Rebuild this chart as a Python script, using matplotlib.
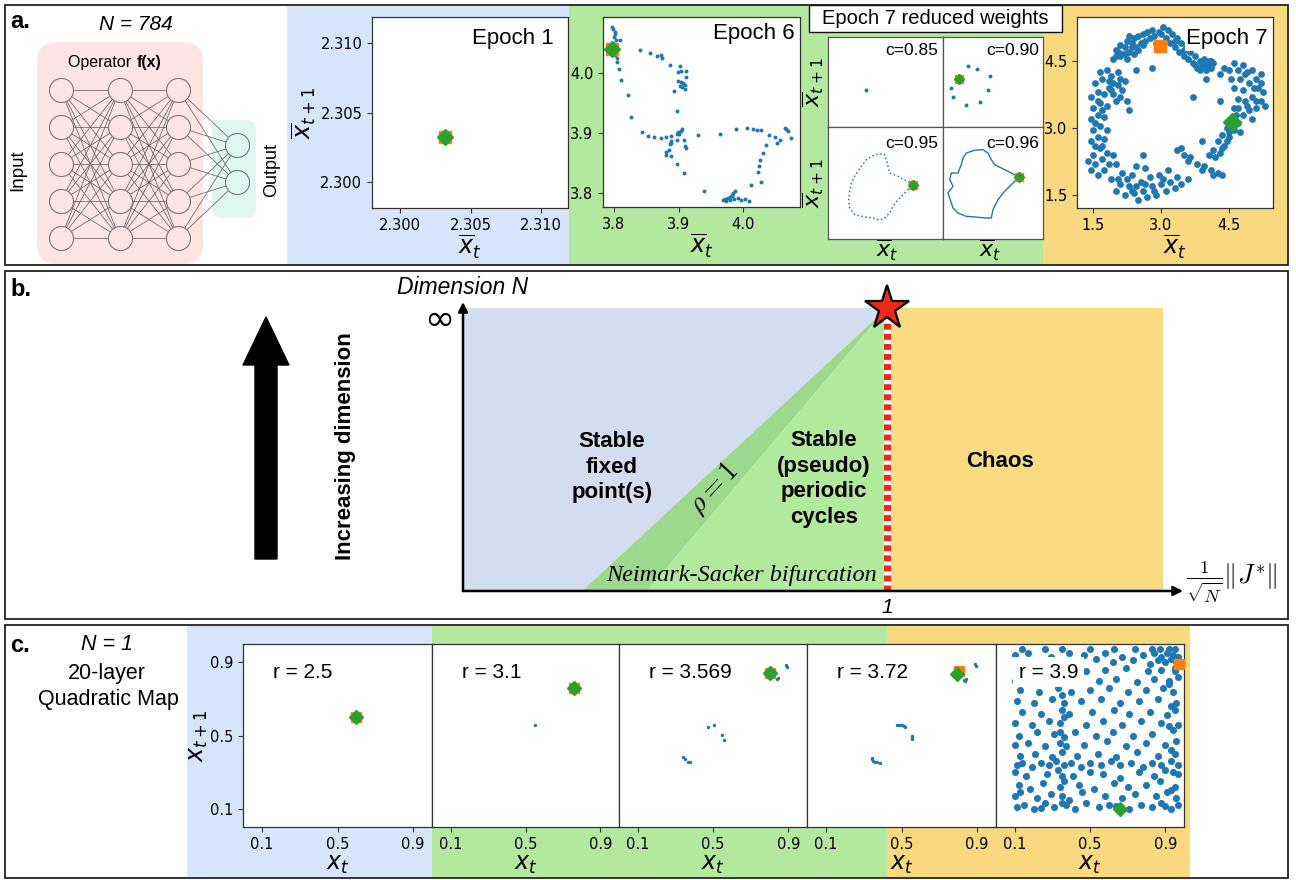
import matplotlib.pyplot as plt
from matplotlib.patches import Rectangle, FancyBboxPatch, FancyArrow

plt.rcParams['font.family'] = ['DejaVu Sans']
SANS = 'Liberation Sans'
SERIF = 'Liberation Serif'

BLUE, ORANGE, GREEN = '#1f77b4', '#ff7f0e', '#2ca02c'

# ---------------- data ----------------
layer_sizes = [5, 5, 5, 2]

epoch1_fixed = (2.3032, 2.3032)
epoch1_ticks = [2.300, 2.305, 2.310]

epoch6_points = [
    (3.797, 4.077), (3.799, 4.073), (3.801, 4.068), (3.802, 4.065), (3.800, 4.059), (3.803, 4.055),
    (3.810, 4.055), (3.798, 4.049), (3.802, 4.029), (3.804, 4.024), (3.805, 4.018), (3.807, 4.006),
    (3.811, 3.988), (3.822, 3.963), (3.827, 3.927),
    (3.841, 4.038), (3.856, 4.033), (3.866, 4.028), (3.873, 4.029), (3.874, 4.025), (3.886, 4.013),
    (3.902, 4.011), (3.903, 4.004), (3.911, 4.003), (3.899, 4.002), (3.911, 3.994), (3.899, 3.987),
    (3.904, 3.985), (3.907, 3.983), (3.902, 3.978), (3.910, 3.980), (3.905, 3.976), (3.910, 3.974),
    (3.893, 3.970), (3.898, 3.936),
    (3.843, 3.901), (3.853, 3.895), (3.862, 3.894), (3.873, 3.891), (3.881, 3.894), (3.889, 3.895),
    (3.897, 3.899), (3.899, 3.901), (3.904, 3.903), (3.906, 3.906), (3.901, 3.899), (3.898, 3.888),
    (3.888, 3.886), (3.886, 3.882), (3.889, 3.883), (3.909, 3.888), (3.910, 3.878), (3.911, 3.875),
    (3.885, 3.871), (3.881, 3.869), (3.880, 3.864), (3.888, 3.861), (3.897, 3.849), (3.909, 3.834),
    (3.930, 3.896), (3.964, 3.898),
    (3.989, 3.907), (4.006, 3.908), (4.016, 3.906), (4.021, 3.905), (4.028, 3.905), (4.040, 3.897),
    (4.049, 3.893), (4.057, 3.888), (4.053, 3.884), (4.065, 3.908), (4.067, 3.906), (4.070, 3.904),
    (4.074, 3.891), (4.036, 3.880), (4.031, 3.867), (4.026, 3.855), (4.024, 3.846), (4.023, 3.836),
    (4.027, 3.819), (4.012, 3.814),
    (3.939, 3.803), (3.969, 3.789), (3.972, 3.790), (3.977, 3.792), (3.979, 3.794), (3.982, 3.797),
    (3.984, 3.800), (3.987, 3.803), (3.983, 3.796), (3.986, 3.790), (3.992, 3.792), (3.997, 3.789),
    (4.003, 3.790), (4.009, 3.787), (3.974, 3.787), (3.979, 3.789),
]
epoch6_fixed = (3.797, 4.040)
epoch6_ticks = [3.8, 3.9, 4.0]

# Epoch 7 reduced weights (cell fractions)
c_labels = ['c=0.85', 'c=0.90', 'c=0.95', 'c=0.96']
c085_points = [(0.328, 0.407)]
c090_points = [(0.25, 0.674), (0.343, 0.648), (0.47, 0.563), (0.45, 0.415), (0.367, 0.274),
               (0.233, 0.248), (0.10, 0.333), (0.077, 0.43)]
c090_fixed = (0.157, 0.533)
c095_curve = [(0.739, 0.485), (0.609, 0.560), (0.536, 0.589), (0.522, 0.649), (0.507, 0.708),
              (0.487, 0.762), (0.406, 0.753), (0.333, 0.708), (0.290, 0.649), (0.232, 0.560),
              (0.203, 0.500), (0.188, 0.426), (0.180, 0.351), (0.188, 0.277), (0.232, 0.217),
              (0.319, 0.196), (0.391, 0.188), (0.449, 0.167), (0.493, 0.188), (0.536, 0.232),
              (0.565, 0.292), (0.609, 0.351), (0.667, 0.411), (0.739, 0.485)]
c095_fixed = (0.739, 0.485)
c096_curve = [(0.76, 0.551), (0.683, 0.589), (0.583, 0.634), (0.517, 0.664), (0.483, 0.708),
              (0.45, 0.768), (0.40, 0.798), (0.317, 0.792), (0.233, 0.768), (0.20, 0.723),
              (0.183, 0.664), (0.15, 0.589), (0.083, 0.589), (0.067, 0.530), (0.10, 0.470),
              (0.05, 0.411), (0.083, 0.321), (0.10, 0.277), (0.15, 0.232), (0.233, 0.202),
              (0.333, 0.196), (0.417, 0.188), (0.483, 0.188), (0.50, 0.262), (0.55, 0.351),
              (0.617, 0.426), (0.683, 0.485), (0.76, 0.551)]
c096_fixed = (0.76, 0.551)

epoch7_points = [
    (1.95, 4.55), (2.05, 4.7), (2.1, 4.85), (2.2, 4.8), (2.25, 4.95), (2.3, 4.7), (2.35, 4.9), (2.4, 5.0),
    (2.45, 4.8), (2.5, 5.05), (2.55, 4.9), (2.6, 5.1), (2.65, 4.95), (2.7, 5.15), (2.75, 5.0), (2.8, 5.2),
    (2.85, 5.05), (2.9, 4.9), (3.0, 5.1), (3.05, 5.25), (3.1, 5.0), (3.15, 5.2), (3.2, 4.9), (3.25, 5.1),
    (3.3, 4.8), (3.35, 5.0), (3.4, 4.7), (3.45, 4.9), (3.5, 4.6), (3.55, 4.8), (3.6, 4.55), (3.65, 4.7),
    (3.7, 4.45), (3.75, 4.6), (3.8, 4.35), (3.85, 4.5), (3.9, 4.4), (3.95, 4.55), (4.0, 4.3), (4.05, 4.5),
    (4.1, 4.35), (4.15, 4.45), (2.0, 4.6), (2.15, 4.65), (2.3, 5.05), (2.6, 4.85), (2.95, 5.15),
    (3.3, 4.95), (3.5, 4.75),
    (2.0, 4.75), (2.1, 4.6), (2.2, 4.65), (2.25, 4.55), (2.4, 4.65), (2.5, 4.75), (2.35, 4.8),
    (3.75, 4.4), (3.85, 4.3), (3.95, 4.42), (4.05, 4.38), (4.1, 4.5),
    (4.3, 4.2), (4.4, 4.35), (4.5, 4.3), (4.6, 4.45), (4.7, 4.3), (4.8, 4.4), (4.9, 4.25), (5.0, 4.3),
    (5.1, 4.1), (5.2, 4.2), (4.55, 4.1), (4.75, 4.1), (4.95, 4.0), (5.15, 3.9), (5.25, 3.8), (4.6, 3.9),
    (4.8, 3.85), (5.0, 3.7), (5.2, 3.6), (4.7, 3.65), (4.9, 3.5), (5.1, 3.45), (5.3, 3.5), (4.6, 3.45),
    (4.8, 3.3), (5.0, 3.2), (4.95, 3.4),
    (5.05, 3.9), (5.2, 4.0), (4.85, 3.6), (5.1, 3.6), (4.7, 3.45), (4.85, 4.2),
    (4.7, 3.1), (4.55, 3.2), (4.6, 2.95), (4.45, 3.0), (4.5, 2.8), (4.35, 2.85), (4.4, 2.6), (4.25, 2.7),
    (4.3, 2.45), (4.15, 2.5), (4.2, 2.35), (4.05, 2.4), (4.65, 3.3), (4.75, 2.9),
    (4.45, 2.7), (4.35, 2.55), (4.6, 3.05), (4.5, 2.9),
    (3.35, 2.5), (3.5, 2.4), (3.65, 2.35), (3.8, 2.2), (3.95, 2.15), (4.1, 2.05), (4.25, 2.0), (4.35, 1.95),
    (3.6, 2.25), (3.9, 2.05), (4.15, 1.95), (3.45, 2.55),
    (3.6, 1.85), (3.45, 1.75), (3.3, 1.65), (3.2, 1.8), (3.1, 1.6), (3.0, 1.75), (2.9, 1.5), (2.8, 1.7),
    (2.7, 1.45), (2.6, 1.6), (2.5, 1.4), (2.4, 1.55), (2.3, 1.7), (2.2, 1.5), (2.1, 1.75), (2.0, 1.6),
    (1.9, 1.85), (2.75, 1.9), (2.55, 1.8), (2.35, 1.95), (2.95, 1.95), (3.15, 2.05), (2.15, 2.0),
    (3.35, 1.9), (2.65, 2.1), (2.45, 2.15),
    (2.25, 1.85), (2.45, 1.7), (2.65, 1.75), (2.85, 1.6), (3.05, 1.85), (2.05, 1.85), (2.35, 1.6),
    (1.45, 2.05), (1.55, 2.2), (1.6, 1.95), (1.7, 2.3), (1.75, 2.05), (1.85, 2.2), (1.95, 2.4), (1.5, 2.4),
    (1.65, 2.55), (1.8, 2.45), (2.0, 2.2), (1.4, 2.25),
    (1.45, 2.7), (1.6, 2.8), (1.75, 2.75), (1.5, 2.95), (1.65, 3.05), (1.8, 2.95), (1.45, 3.2), (1.6, 3.3),
    (1.75, 3.25), (1.5, 3.45), (1.65, 3.55), (1.8, 3.5), (1.45, 3.7), (1.6, 3.8), (1.75, 3.75), (1.55, 4.0),
    (1.7, 4.1), (1.85, 3.9), (1.95, 3.75), (2.05, 3.95), (2.15, 3.85), (2.2, 4.05), (1.9, 4.15),
    (2.05, 4.25), (1.8, 4.3), (1.65, 4.25), (2.0, 3.6), (2.25, 3.6),
    (1.85, 4.05), (1.95, 4.0), (2.1, 4.1), (1.9, 3.85), (2.1, 3.7),
    (1.55, 3.1), (1.7, 2.6), (1.55, 2.6), (1.6, 3.6), (1.7, 3.4),
    (2.3, 3.4), (2.8, 4.35), (3.7, 3.7), (4.3, 3.6), (2.6, 2.4), (3.9, 2.7), (4.0, 4.1), (2.45, 4.3),
]
epoch7_square = (2.985, 4.84)
epoch7_diamond = (4.57, 3.13)
epoch7_ticks = [1.5, 3.0, 4.5]

# panel b: phase diagram regions (x = ||J*||/sqrt(N), y = dimension, 1 = infinity)
edge_of_chaos = 1.0
fixed_region = [(0, 0), (0.281, 0), (1, 1), (0, 1)]
rho_band = [(0.281, 0), (1, 1), (0.434, 0)]
cycle_region = [(0.434, 0), (1, 1), (1, 0)]
chaos_region = [(1, 0), (1.651, 0), (1.651, 1), (1, 1)]

# panel c: 20-layer quadratic map
r_values = ['2.5', '3.1', '3.569', '3.72', '3.9']
r_orbits = [
    [],
    [(0.55, 0.56)],
    [(0.888, 0.885), (0.895, 0.876), (0.84, 0.81), (0.845, 0.815), (0.473, 0.547), (0.505, 0.558),
     (0.548, 0.503), (0.558, 0.476), (0.34, 0.38), (0.35, 0.37), (0.367, 0.355), (0.375, 0.357)],
    [(0.476, 0.556), (0.485, 0.56), (0.495, 0.555), (0.505, 0.558), (0.515, 0.552), (0.52, 0.545),
     (0.556, 0.50), (0.556, 0.49), (0.558, 0.48), (0.553, 0.485), (0.344, 0.377), (0.346, 0.37),
     (0.35, 0.36), (0.36, 0.355), (0.37, 0.355), (0.386, 0.35), (0.836, 0.80), (0.84, 0.81),
     (0.83, 0.805), (0.89, 0.89), (0.895, 0.88)],
    [(0.11, 0.11), (0.15, 0.12), (0.2, 0.10), (0.26, 0.13), (0.31, 0.11), (0.37, 0.12), (0.42, 0.10),
     (0.48, 0.13), (0.55, 0.11), (0.6, 0.12), (0.71, 0.10), (0.77, 0.12), (0.83, 0.11), (0.88, 0.13),
     (0.93, 0.10), (0.97, 0.12), (0.24, 0.105), (0.64, 0.115), (0.9, 0.115),
     (0.1, 0.17), (0.13, 0.19), (0.22, 0.16), (0.29, 0.18), (0.35, 0.17), (0.39, 0.15), (0.46, 0.19),
     (0.58, 0.17), (0.67, 0.16), (0.74, 0.18), (0.85, 0.17), (0.91, 0.19), (0.96, 0.16),
     (0.12, 0.23), (0.18, 0.21), (0.25, 0.24), (0.34, 0.22), (0.36, 0.25), (0.44, 0.23), (0.52, 0.21),
     (0.63, 0.24), (0.7, 0.22), (0.8, 0.23), (0.87, 0.25), (0.95, 0.22),
     (0.1, 0.3), (0.16, 0.28), (0.27, 0.29), (0.33, 0.31), (0.41, 0.28), (0.5, 0.3), (0.57, 0.29),
     (0.66, 0.27), (0.76, 0.3), (0.84, 0.28), (0.9, 0.31), (0.97, 0.29),
     (0.11, 0.34), (0.14, 0.35), (0.19, 0.33), (0.24, 0.35), (0.28, 0.34), (0.32, 0.36), (0.36, 0.34),
     (0.4, 0.35), (0.45, 0.33), (0.5, 0.35), (0.56, 0.34), (0.61, 0.36), (0.66, 0.34), (0.72, 0.35),
     (0.78, 0.33), (0.83, 0.35), (0.88, 0.34), (0.93, 0.36), (0.97, 0.34),
     (0.13, 0.39), (0.21, 0.4), (0.3, 0.38), (0.35, 0.41), (0.43, 0.39), (0.54, 0.4), (0.64, 0.38),
     (0.75, 0.41), (0.86, 0.39), (0.95, 0.4),
     (0.1, 0.45), (0.17, 0.46), (0.26, 0.44), (0.34, 0.46), (0.37, 0.44), (0.47, 0.45), (0.59, 0.47),
     (0.69, 0.44), (0.8, 0.46), (0.9, 0.45), (0.96, 0.47),
     (0.12, 0.5), (0.22, 0.52), (0.31, 0.51), (0.36, 0.49), (0.42, 0.52), (0.53, 0.5), (0.62, 0.52),
     (0.73, 0.5), (0.83, 0.51), (0.94, 0.53),
     (0.1, 0.57), (0.19, 0.56), (0.28, 0.58), (0.34, 0.57), (0.48, 0.56), (0.57, 0.58), (0.67, 0.56),
     (0.77, 0.58), (0.88, 0.57), (0.97, 0.56),
     (0.14, 0.63), (0.24, 0.62), (0.35, 0.64), (0.39, 0.62), (0.51, 0.63), (0.63, 0.64), (0.71, 0.62),
     (0.82, 0.63), (0.91, 0.61), (0.95, 0.64),
     (0.11, 0.69), (0.2, 0.68), (0.3, 0.7), (0.36, 0.68), (0.45, 0.69), (0.56, 0.7), (0.66, 0.68),
     (0.76, 0.69), (0.86, 0.7), (0.96, 0.68),
     (0.13, 0.75), (0.23, 0.74), (0.33, 0.76), (0.4, 0.74), (0.5, 0.75), (0.6, 0.76), (0.7, 0.74),
     (0.8, 0.75), (0.89, 0.76), (0.94, 0.74),
     (0.1, 0.8), (0.18, 0.81), (0.27, 0.79), (0.35, 0.8), (0.44, 0.82), (0.55, 0.8), (0.64, 0.81),
     (0.75, 0.79), (0.84, 0.81), (0.92, 0.8), (0.97, 0.82),
     (0.15, 0.86), (0.25, 0.85), (0.37, 0.87), (0.48, 0.85), (0.58, 0.86), (0.69, 0.87), (0.81, 0.85),
     (0.88, 0.86), (0.95, 0.87),
     (0.12, 0.9), (0.21, 0.91), (0.32, 0.89), (0.36, 0.91), (0.43, 0.9), (0.53, 0.92), (0.62, 0.9),
     (0.73, 0.91), (0.82, 0.89), (0.86, 0.91), (0.9, 0.9), (0.93, 0.92), (0.96, 0.9),
     (0.1, 0.94), (0.17, 0.95), (0.29, 0.93), (0.39, 0.95), (0.47, 0.94), (0.58, 0.95), (0.67, 0.93),
     (0.78, 0.94), (0.84, 0.95), (0.88, 0.93), (0.91, 0.95), (0.94, 0.94), (0.97, 0.93),
     (0.14, 0.97), (0.26, 0.975), (0.35, 0.97), (0.5, 0.975), (0.63, 0.97), (0.74, 0.975),
     (0.83, 0.97), (0.87, 0.975), (0.92, 0.97), (0.95, 0.975),
     (0.35, 0.13), (0.35, 0.28), (0.34, 0.52), (0.36, 0.6), (0.35, 0.72), (0.34, 0.84), (0.93, 0.2),
     (0.94, 0.3), (0.93, 0.42), (0.92, 0.55), (0.93, 0.66), (0.92, 0.78), (0.95, 0.85)],
]
r_square = [(0.6, 0.6), (0.76, 0.76), (0.803, 0.84), (0.805, 0.85), (0.975, 0.89)]
r_diamond = [(0.6, 0.6), (0.76, 0.76), (0.803, 0.84), (0.795, 0.835), (0.66, 0.098)]
c_ticks = [0.1, 0.5, 0.9]

# ---------------- layout helpers ----------------
W, H = 1296, 880
fig = plt.figure(figsize=(W / 100, H / 100), dpi=100)


def px_axes(x0, y0, x1, y1, **kw):
    return fig.add_axes([x0 / W, 1 - y1 / H, (x1 - x0) / W, (y1 - y0) / H], **kw)


def px_text(x, y, s, **kw):
    fig.text(x / W, 1 - y / H, s, **kw)


def unzip(pts):
    return [p[0] for p in pts], [p[1] for p in pts]


def style_axes(ax, size=10.5):
    for sp in ax.spines.values():
        sp.set_color('#333333')
        sp.set_linewidth(0.9)
    ax.tick_params(labelsize=size, length=3.5, width=0.8, color='#333333')


bg = fig.add_axes([0, 0, 1, 1], zorder=-10)
bg.set_xlim(0, W)
bg.set_ylim(H, 0)
bg.axis('off')


def band(x0, x1, y0, y1, color, z=0):
    bg.add_patch(Rectangle((x0, y0), x1 - x0, y1 - y0, fc=color, ec='none', zorder=z))


A_BLUE, A_GREEN, A_YELLOW = '#d7e5fb', '#b2e99f', '#f9d97f'
band(287, 569, 6, 264, A_BLUE)
band(569, 1043, 6, 264, A_GREEN)
band(1043, 1288, 6, 264, A_YELLOW)
band(187, 432, 626, 877, A_BLUE)
band(432, 887, 626, 877, A_GREEN)
band(887, 1190, 626, 877, A_YELLOW)
for (x0, y0, x1, y1) in [(5, 5, 1288, 265), (5, 271, 1288, 619), (5, 625, 1288, 878)]:
    bg.add_patch(Rectangle((x0, y0), x1 - x0, y1 - y0, fill=False, ec='#222222', lw=1.3, zorder=5))

# ---------------- panel a ----------------
bg.add_patch(FancyBboxPatch((37, 42), 166, 222, boxstyle='round,pad=0,rounding_size=20',
                            fc='#fde5e5', ec='none', zorder=1))
bg.add_patch(FancyBboxPatch((212, 120), 44, 98, boxstyle='round,pad=0,rounding_size=10',
                            fc='#dff7f1', ec='none', zorder=1))

ax_net = px_axes(5, 5, 287, 265, zorder=1)
ax_net.set_facecolor('none')
ax_net.set_xlim(-0.954, 3.852)
ax_net.set_ylim(4.73, -2.297)
ax_net.axis('off')
node_y = [[2 - (n - 1) / 2 + k for k in range(n)] for n in layer_sizes]
for i in range(len(layer_sizes) - 1):
    for ya in node_y[i]:
        for yb in node_y[i + 1]:
            ax_net.plot([i, i + 1], [ya, yb], color='#666666', lw=0.55, zorder=1)
for i, ys in enumerate(node_y):
    face = '#dff7f1' if i == len(layer_sizes) - 1 else '#fde5e5'
    ax_net.scatter([i] * len(ys), ys, s=300, facecolor=face, edgecolor='#777777', lw=0.8, zorder=2)

px_text(10, 22, 'a.', fontsize=17, fontweight='bold', family=SANS, ha='left', va='center')
px_text(136, 24, 'N = 784', fontsize=15, style='italic', family=SANS, ha='center', va='center')
px_text(136, 63, 'Operator ', fontsize=11.5, family=SANS, ha='right', va='center')
px_text(137, 63, 'f(x)', fontsize=11.5, fontweight='bold', family=SANS, ha='left', va='center')
px_text(18, 170, 'Input', fontsize=13.5, family=SANS, rotation=90, ha='center', va='center')
px_text(272, 170, 'Output', fontsize=13, family=SANS, rotation=90, ha='center', va='center')

# Epoch 1
ax = px_axes(372, 17, 568, 208)
ax.plot(*epoch1_fixed, 's', color=ORANGE, ms=9)
ax.plot(*epoch1_fixed, 'D', color=GREEN, ms=8)
ax.set_xlim(2.298, 2.3119)
ax.set_ylim(2.2981, 2.3119)
ax.set_xticks(epoch1_ticks)
ax.set_yticks(epoch1_ticks)
ax.set_xticklabels(['%.3f' % t for t in epoch1_ticks])
ax.set_yticklabels(['%.3f' % t for t in epoch1_ticks])
style_axes(ax)
ax.set_xlabel(r'$\overline{x}_t$', fontsize=17, labelpad=0)
ax.set_ylabel(r'$\overline{x}_{t+1}$', fontsize=17, labelpad=2)
ax.text(0.925, 0.885, 'Epoch 1', transform=ax.transAxes, ha='right', va='center',
        fontsize=16, family=SANS)

# Epoch 6
ax = px_axes(603, 17, 800, 207)
ex, ey = unzip(epoch6_points)
ax.scatter(ex, ey, s=8, color=BLUE, lw=0)
ax.plot(*epoch6_fixed, 's', color=ORANGE, ms=9)
ax.plot(*epoch6_fixed, 'D', color=GREEN, ms=8)
ax.set_xlim(3.783, 4.088)
ax.set_ylim(3.777, 4.093)
ax.set_xticks(epoch6_ticks)
ax.set_yticks(epoch6_ticks)
style_axes(ax)
ax.set_xlabel(r'$\overline{x}_t$', fontsize=17, labelpad=0)
ax.text(0.975, 0.915, 'Epoch 6', transform=ax.transAxes, ha='right', va='center',
        fontsize=16, family=SANS)

# Epoch 7 reduced weights (2x2)
bg.add_patch(Rectangle((809, 5), 253, 27, fc='white', ec='#111111', lw=1.0, zorder=6))
px_text(935.5, 19, 'Epoch 7 reduced weights', fontsize=14.5, family=SANS, ha='center', va='center')
cells = [(828, 37, 943, 127), (943, 37, 1043, 127), (828, 127, 943, 239), (943, 127, 1043, 239)]
cell_axes = []
for (x0, y0, x1, y1), lab in zip(cells, c_labels):
    cax = px_axes(x0, y0, x1, y1)
    cax.set_xlim(0, 1)
    cax.set_ylim(0, 1)
    cax.set_xticks([])
    cax.set_yticks([])
    for sp in cax.spines.values():
        sp.set_color('#555555')
        sp.set_linewidth(0.9)
    cax.text(0.96, 0.85, lab, transform=cax.transAxes, ha='right', va='center',
             fontsize=12.5, family=SANS)
    cell_axes.append(cax)
cell_axes[0].scatter(*unzip(c085_points), s=8, color=BLUE, lw=0)
cell_axes[1].scatter(*unzip(c090_points), s=8, color=BLUE, lw=0)
cell_axes[1].plot(*c090_fixed, 's', color=ORANGE, ms=6)
cell_axes[1].plot(*c090_fixed, 'D', color=GREEN, ms=5.5)
cell_axes[2].plot(*unzip(c095_curve), ':', color=BLUE, lw=1.1)
cell_axes[2].plot(*c095_fixed, 's', color=ORANGE, ms=6)
cell_axes[2].plot(*c095_fixed, 'D', color=GREEN, ms=5.5)
cell_axes[3].plot(*unzip(c096_curve), '-', color=BLUE, lw=1.0)
cell_axes[3].plot(*c096_fixed, 's', color=ORANGE, ms=6)
cell_axes[3].plot(*c096_fixed, 'D', color=GREEN, ms=5.5)
for yc in (82, 183):
    px_text(813, yc, r'$\overline{x}_{t+1}$', fontsize=16, rotation=90, ha='center', va='center')
for xc in (887, 990):
    px_text(xc, 250, r'$\overline{x}_t$', fontsize=16, ha='center', va='center')

# Epoch 7
ax = px_axes(1077, 17, 1273, 208)
ex, ey = unzip(epoch7_points)
ax.scatter(ex, ey, s=24, color=BLUE, lw=0)
ax.plot(*epoch7_square, 's', color=ORANGE, ms=9, zorder=4)
ax.plot(*epoch7_diamond, 'D', color=GREEN, ms=9, zorder=4)
ax.set_xlim(1.147, 5.47)
ax.set_ylim(1.21, 5.48)
ax.set_xticks(epoch7_ticks)
ax.set_yticks(epoch7_ticks)
style_axes(ax)
ax.set_xlabel(r'$\overline{x}_t$', fontsize=17, labelpad=0)
ax.text(0.975, 0.885, 'Epoch 7', transform=ax.transAxes, ha='right', va='center',
        fontsize=16, family=SANS, zorder=5,
        bbox=dict(fc='white', ec='none', pad=1))

# ---------------- panel b ----------------
px_text(10, 289, 'b.', fontsize=17, fontweight='bold', family=SANS, ha='left', va='center')
bg.add_patch(FancyArrow(266, 559, 0, -242, width=22, head_width=46, head_length=48,
                        length_includes_head=True, color='black', zorder=3))
px_text(346, 446, 'Increasing dimension', fontsize=16, fontweight='bold', family=SANS,
        rotation=90, ha='center', va='center')

axb = px_axes(463, 302, 1183, 591, zorder=1)
axb.set_xlim(0, 720 / 424)
axb.set_ylim(0, 289 / 283)
axb.axis('off')
axb.fill(*unzip(fixed_region), color='#d2ddf0', lw=0)
axb.fill(*unzip(rho_band), color='#9cd98f', lw=0)
axb.fill(*unzip(cycle_region), color='#b1ea9c', lw=0)
axb.fill(*unzip(chaos_region), color='#f9db82', lw=0)
axb.plot([edge_of_chaos, edge_of_chaos], [0, 0.96], color='white', lw=5, solid_capstyle='butt')
axb.plot([edge_of_chaos, edge_of_chaos], [0, 0.96], color='#e8281c', lw=5, ls=(0, (0.85, 0.6)))
axb.plot(edge_of_chaos, 1.0, '*', ms=33, mfc='#ee2a1b', mec='black', mew=1.6, clip_on=False, zorder=5)
arrow = dict(arrowstyle='-|>', color='black', lw=1.8, mutation_scale=14, shrinkA=0, shrinkB=0)
axb.annotate('', xy=(720 / 424, 0), xytext=(0, 0), arrowprops=arrow, annotation_clip=False)
axb.annotate('', xy=(0, 289 / 283), xytext=(0, 0), arrowprops=arrow, annotation_clip=False)

axb.text(0, 1.071, 'Dimension N', fontsize=16.5, style='italic', family=SANS, ha='center', va='center')
axb.text(-0.055, 0.958, '∞', fontsize=26, ha='center', va='center')
axb.text(edge_of_chaos, -0.057, '1', fontsize=15, style='italic', family=SANS, ha='center', va='center')
axb.text(1.706, 0.03, r'$\frac{1}{\sqrt{N}}\Vert J^{*}\Vert$', fontsize=19, math_fontfamily='cm',
         ha='left', va='center')
axb.text(0.351, 0.438, 'Stable\nfixed\npoint(s)', fontsize=16, fontweight='bold', family=SANS,
         ha='center', va='center', linespacing=1.3)
axb.text(0.851, 0.396, 'Stable\n(pseudo)\nperiodic\ncycles', fontsize=16, fontweight='bold',
         family=SANS, ha='center', va='center', linespacing=1.3)
axb.text(1.266, 0.456, 'Chaos', fontsize=16, fontweight='bold', family=SANS, ha='center', va='center')
axb.text(0.592, 0.364, r'$\rho = 1$', fontsize=20, math_fontfamily='cm', rotation=47,
         ha='center', va='center')
axb.text(0.976, 0.035, 'Neimark-Sacker bifurcation', fontsize=17.5, style='italic', family=SERIF,
         ha='right', va='baseline')

# ---------------- panel c ----------------
px_text(10, 645, 'c.', fontsize=17, fontweight='bold', family=SANS, ha='left', va='center')
px_text(107, 645, 'N = 1', fontsize=15.5, style='italic', family=SANS, ha='center', va='center')
px_text(107, 673, '20-layer', fontsize=15.5, family=SANS, ha='center', va='center')
px_text(108, 700, 'Quadratic Map', fontsize=15.5, family=SANS, ha='center', va='center')

c_edges = [243, 432, 619, 807, 996, 1184]
for i, r in enumerate(r_values):
    ax = px_axes(c_edges[i], 644, c_edges[i + 1], 827)
    if r_orbits[i]:
        ox, oy = unzip(r_orbits[i])
        ax.scatter(ox, oy, s=26 if i == 4 else 6, color=BLUE, lw=0)
    ax.plot(*r_square[i], 's', color=ORANGE, ms=7.5, clip_on=False, zorder=4)
    ax.plot(*r_diamond[i], 'D', color=GREEN, ms=7, clip_on=False, zorder=4)
    ax.set_xlim(0, 1)
    ax.set_ylim(0, 1)
    ax.set_xticks(c_ticks)
    ax.set_xticklabels([str(t) for t in c_ticks])
    if i == 0:
        ax.set_yticks(c_ticks)
        ax.set_yticklabels([str(t) for t in c_ticks])
        ax.set_ylabel(r'$x_{t+1}$', fontsize=17, labelpad=0)
    else:
        ax.set_yticks([])
    style_axes(ax, size=10.5)
    ax.set_xlabel(r'$x_t$', fontsize=17, labelpad=0)
    if i == 4:
        ax.text(0.12, 0.845, 'r = ' + r, transform=ax.transAxes, ha='left', va='center',
                fontsize=15, family=SANS, zorder=5, bbox=dict(fc='white', ec='none', pad=4))
    else:
        ax.text(0.16, 0.845, 'r = ' + r, transform=ax.transAxes, ha='left', va='center',
                fontsize=15, family=SANS)

fig.savefig('out.png', dpi=100)
